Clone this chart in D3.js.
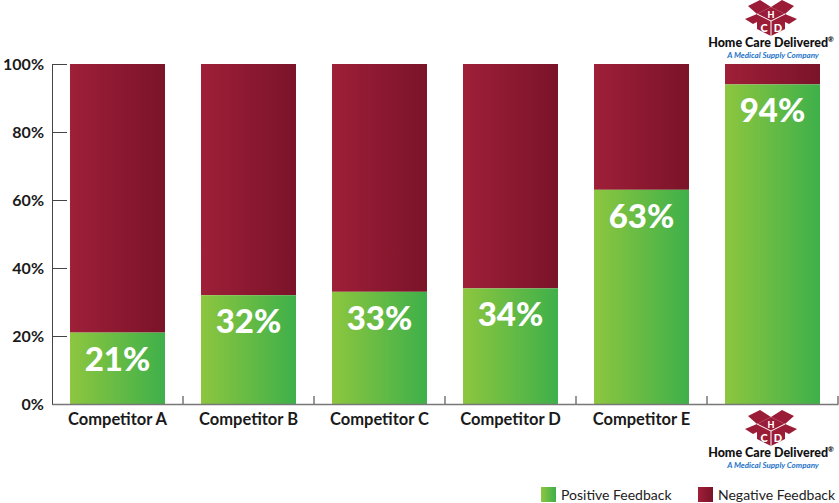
<!DOCTYPE html>
<html>
<head>
<meta charset="utf-8">
<script src="https://cdn.jsdelivr.net/npm/d3@7"></script>
<style>
html,body{margin:0;padding:0;background:#fff;}
svg{display:block;font-family:Lato,"Open Sans",sans-serif;}
</style>
</head>
<body>
<svg id="chart" width="839" height="503"></svg>
<script>
const categories = ["Competitor A","Competitor B","Competitor C","Competitor D","Competitor E","Home Care Delivered"];
const axisLabels = ["Competitor A","Competitor B","Competitor C","Competitor D","Competitor E",""];
const positive = [21,32,33,34,63,94];
const negative = [79,68,67,66,37,6];
const yTicks = [0,20,40,60,80,100];
const legendItems = ["Positive Feedback","Negative Feedback"];

const svg = d3.select("#chart");
const defs = svg.append("defs");
function grad(id, c1, c2){
  const g = defs.append("linearGradient").attr("id", id).attr("x1","0").attr("x2","1").attr("y1","0").attr("y2","0");
  g.append("stop").attr("offset","0").attr("stop-color",c1);
  g.append("stop").attr("offset","1").attr("stop-color",c2);
}
grad("gPos","#8dc63f","#3eb04a");
grad("gNeg","#9e1f38","#7a1329");

const x = d3.scaleBand().domain(categories).range([52,838]).paddingInner(0.275).paddingOuter(0.1375);
const y = d3.scaleLinear().domain([0,100]).range([404,64]);

// bars
const stack = categories.map((c,i)=>({c, pos: positive[i], neg: negative[i]}));
const g = svg.append("g");
g.selectAll("rect.neg").data(stack).join("rect").attr("class","neg")
  .attr("x", d=>x(d.c)).attr("width", x.bandwidth())
  .attr("y", d=>y(d.pos + d.neg)).attr("height", d=>y(d.pos) - y(d.pos + d.neg))
  .attr("fill","url(#gNeg)");
g.selectAll("rect.pos").data(stack).join("rect").attr("class","pos")
  .attr("x", d=>x(d.c)).attr("width", x.bandwidth())
  .attr("y", d=>y(d.pos)).attr("height", d=>y(0) - y(d.pos))
  .attr("fill","url(#gPos)");
g.selectAll("text.val").data(stack).join("text").attr("class","val")
  .attr("x", d=>x(d.c) + x.bandwidth()/2).attr("y", d=>y(d.pos) + 38)
  .attr("text-anchor","middle").attr("fill","#fff")
  .attr("font-size",33).attr("font-weight",900)
  .text(d=>d.pos + "%");

// y axis
const ya = svg.append("g").attr("transform","translate(52,0)")
  .call(d3.axisLeft(y).tickValues(yTicks).tickFormat(d=>d+"%").tickSizeInner(-15).tickSizeOuter(0).tickPadding(8));
ya.select(".domain").attr("stroke","#444");
ya.selectAll(".tick line").attr("stroke","#444");
ya.selectAll(".tick text").attr("font-size",16).attr("font-weight",700).attr("fill","#1a1a1a")
  .attr("font-family","Lato,sans-serif");

// x axis
const xa = svg.append("g").attr("transform","translate(0,404)")
  .call(d3.axisBottom(x).tickSize(0).tickPadding(9).tickFormat((d,i)=>axisLabels[i]));
xa.select(".domain").attr("stroke","#777").attr("stroke-width",1.5);
xa.selectAll(".tick text").attr("font-size",16.5).attr("font-weight",700).attr("fill","#1a1a1a")
  .attr("font-family","Lato,sans-serif");
const bounds = d3.range(1, categories.length+1).map(i=>x.range()[0] + i*x.step());
svg.append("g").selectAll("line").data(bounds).join("line")
  .attr("x1",d=>d).attr("x2",d=>d).attr("y1",404).attr("y2",396)
  .attr("stroke","#777").attr("stroke-width",1.5);

// logo
function logo(cx, top){
  const L = svg.append("g").attr("transform",`translate(${cx},${top})`);
  const red = "#9b1c36";
  // flaps
  L.append("path").attr("d","M-14,14 L-23,6 L-11,0 L0,7 Z").attr("fill",red);
  L.append("path").attr("d","M14,14 L23,6 L11,0 L0,7 Z").attr("fill",red);
  L.append("path").attr("d","M-14,14 L-26,19 L-18,24 L-14,22 Z").attr("fill",red);
  L.append("path").attr("d","M14,14 L26,19 L18,24 L14,22 Z").attr("fill",red);
  // cube
  L.append("path").attr("d","M0,7 L-14,14 L-14,29 L0,36 L14,29 L14,14 Z").attr("fill",red);
  L.append("path").attr("d","M-14,14 L0,21 L14,14 M0,21 L0,36").attr("stroke","#fff").attr("stroke-width",1).attr("fill","none");
  L.append("text").attr("x",0).attr("y",18).attr("text-anchor","middle").attr("font-size",9).attr("font-weight",900).attr("fill","#fff").text("H");
  L.append("text").attr("x",-7).attr("y",32).attr("text-anchor","middle").attr("font-size",11).attr("font-weight",900).attr("fill","#fff").text("C");
  L.append("text").attr("x",7).attr("y",32).attr("text-anchor","middle").attr("font-size",11).attr("font-weight",900).attr("fill","#fff").text("D");
  const t = L.append("text").attr("x",0).attr("y",47).attr("text-anchor","middle").attr("font-size",12.5).attr("font-weight",900).attr("fill","#111");
  t.append("tspan").text("Home Care Delivered");
  t.append("tspan").attr("font-size",7).attr("dy",-5).text("®");
  L.append("text").attr("x",2).attr("y",58).attr("text-anchor","middle").attr("font-size",8).attr("font-style","italic").attr("font-weight",700).attr("fill","#1e73c8").text("A Medical Supply Company");
}
logo(771, 0);
logo(771, 410);

// legend
const lx = [541, 698];
const lf = ["url(#gPos)","url(#gNeg)"];
const lg = svg.append("g").selectAll("g").data(legendItems).join("g")
  .attr("transform",(d,i)=>`translate(${lx[i]},487)`);
lg.append("rect").attr("width",15).attr("height",15).attr("fill",(d,i)=>lf[i]);
lg.append("text").attr("x",20).attr("y",13).attr("font-size",14).attr("fill","#222").text(d=>d);
</script>
</body>
</html>
